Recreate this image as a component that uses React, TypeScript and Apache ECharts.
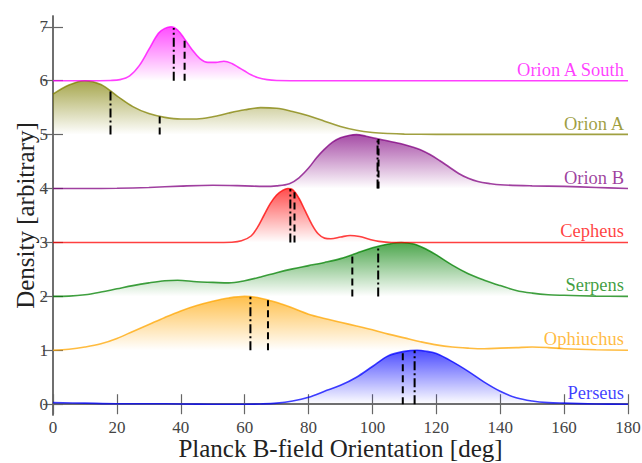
import React, { useEffect, useRef } from "react";
import * as echarts from "echarts";

const regionNames = ["Perseus", "Ophiuchus", "Serpens", "Cepheus", "Orion B", "Orion A", "Orion A South"];

const perseus = [[0,0.03],[10,0.02],[20,0.01],[30,0.01],[40,0.005],[50,0],[60,0],[65,0.005],[70,0.02],[75,0.06],[80,0.13],[85,0.24],[90,0.35],[95,0.5],[100,0.7],[105,0.9],[110,0.98],[114,1.0],[117,0.98],[120,0.94],[125,0.79],[130,0.61],[135,0.41],[140,0.24],[145,0.12],[150,0.06],[155,0.03],[160,0.02],[170,0.005],[180,0]];
const ophiuchus = [[0,0],[5,0.02],[10,0.06],[15,0.12],[20,0.22],[25,0.35],[30,0.48],[35,0.61],[40,0.73],[45,0.83],[50,0.91],[55,0.97],[60,1.0],[64,0.98],[68,0.92],[72,0.85],[76,0.76],[80,0.67],[85,0.59],[90,0.52],[95,0.45],[100,0.38],[105,0.3],[110,0.23],[115,0.16],[120,0.1],[125,0.06],[130,0.04],[135,0.03],[140,0.04],[145,0.05],[150,0.06],[155,0.05],[160,0.03],[170,0.01],[180,0]];
const serpens = [[0,0],[5,0.005],[10,0.03],[15,0.08],[20,0.14],[25,0.2],[30,0.25],[35,0.29],[39,0.3],[45,0.27],[50,0.26],[55,0.25],[60,0.29],[65,0.36],[70,0.44],[75,0.51],[80,0.57],[85,0.63],[90,0.7],[95,0.8],[100,0.9],[105,0.97],[109,1.0],[113,0.97],[117,0.87],[120,0.77],[125,0.58],[130,0.42],[135,0.3],[140,0.2],[145,0.11],[150,0.06],[155,0.03],[160,0.02],[170,0.005],[180,0]];
const cepheus = [[0,0],[20,0],[40,0],[50,0],[56,0.005],[59,0.03],[62,0.12],[64,0.28],[66,0.5],[68,0.72],[70,0.88],[72,0.97],[73.5,1.0],[75,0.98],[77,0.82],[79,0.58],[81,0.34],[83,0.16],[85,0.08],[87,0.07],[90,0.1],[93,0.13],[96,0.11],[99,0.06],[102,0.02],[106,0],[120,0],[150,0],[180,0]];
const orionB = [[0,0],[10,0],[20,0.005],[30,0.02],[40,0.045],[50,0.06],[60,0.05],[66,0.04],[70,0.05],[74,0.09],[77,0.2],[80,0.38],[82.5,0.57],[85,0.73],[87.5,0.86],[90,0.94],[93,0.99],[95,1.0],[98,0.97],[101,0.93],[105,0.88],[109,0.83],[112,0.78],[115,0.72],[118,0.63],[121,0.52],[124,0.4],[127,0.28],[130,0.19],[133,0.13],[137,0.09],[140,0.07],[150,0.05],[160,0.04],[170,0.02],[180,0]];
const orionA = [[0,0.75],[5,0.92],[10,1.0],[15,0.93],[20,0.72],[25,0.52],[30,0.39],[35,0.32],[40,0.29],[45,0.29],[50,0.33],[55,0.4],[60,0.46],[65,0.5],[70,0.49],[75,0.43],[80,0.35],[85,0.25],[90,0.15],[95,0.08],[100,0.04],[105,0.02],[110,0.01],[120,0.005],[140,0.005],[160,0.005],[180,0.005]];
const orionASouth = [[0,0],[10,0],[18,0.005],[21,0.02],[24,0.09],[27,0.28],[30,0.58],[33,0.88],[35,0.97],[37,1.0],[39,0.94],[41,0.79],[43.5,0.58],[46,0.41],[48.5,0.34],[51,0.34],[53.5,0.36],[56,0.32],[58,0.25],[60,0.18],[62,0.11],[64,0.06],[67,0.02],[70,0.005],[80,0],[100,0],[130,0],[160,0],[180,0]];

const curves = [perseus, ophiuchus, serpens, cepheus, orionB, orionA, orionASouth];

// dash-dot and dashed marker positions [deg]
const dashDotMarks = [113.2, 61.8, 101.8, 74.3, 101.6, 18.0, 37.8];
const dashedMarks = [109.5, 67.3, 93.7, 75.6, 101.9, 33.4, 41.2];

const yTicks = [0, 1, 2, 3, 4, 5, 6, 7];

const xTitle = "Planck B-field Orientation [deg]";
const yTitle = "Density [arbitrary]";

const rgbColors = [
  [0, 0, 255],
  [255, 165, 0],
  [0, 128, 0],
  [255, 0, 0],
  [128, 0, 128],
  [128, 128, 0],
  [255, 0, 255],
];

function densityAt(curve: number[][], x: number): number {
  for (let i = 0; i < curve.length - 1; i++) {
    const [x0, y0] = curve[i];
    const [x1, y1] = curve[i + 1];
    if (x >= x0 && x <= x1) {
      const t = (x - x0) / (x1 - x0);
      return y0 + t * (y1 - y0);
    }
  }
  return 0;
}

const FONT = "Liberation Serif";

export default function App() {
  const ref = useRef<HTMLDivElement>(null);
  useEffect(() => {
    if (!ref.current) return;
    const chart = echarts.init(ref.current, null, { renderer: "svg" });
    const rgba = (c: number[], a: number) => `rgba(${c[0]},${c[1]},${c[2]},${a})`;

    const series: any[] = [];
    curves.forEach((curve, i) => {
      const c = rgbColors[i];
      series.push({
        type: "line",
        name: regionNames[i],
        data: curve.map(([x, d]) => [x, i + d]),
        smooth: 0.35,
        symbol: "none",
        lineStyle: { color: rgba(c, 0.75), width: 1.6 },
        areaStyle: {
          origin: i,
          color: new echarts.graphic.LinearGradient(0, 0, 0, 1, [
            { offset: 0, color: rgba(c, 1) },
            { offset: 1, color: rgba(c, 0.0) },
          ]),
        },
        z: 2,
        silent: true,
      });
    });
    const markSeries = (marks: number[], dash: number[]) => {
      marks.forEach((m, i) => {
        series.push({
          type: "line",
          data: [
            [m, i],
            [m, i + densityAt(curves[i], m)],
          ],
          symbol: "none",
          lineStyle: { color: "#000", width: 2, type: dash },
          z: 5,
          silent: true,
        });
      });
    };
    markSeries(dashDotMarks, [9, 3, 2, 3]);
    markSeries(dashedMarks, [7, 4]);

    const axisLine = { show: true, lineStyle: { color: "#666", width: 1.5 } };
    const tickStyle = { color: "#666", width: 1.2 };
    const tickLabel = { show: true, fontFamily: FONT, fontSize: 17, color: "#444" };

    chart.setOption({
      animation: false,
      backgroundColor: "#fff",
      textStyle: { fontFamily: FONT },
      grid: { left: 53, right: 14, top: 16, bottom: 48, containLabel: false, outerBoundsMode: "none" },
      xAxis: [
        {
          type: "value",
          position: "bottom",
          min: 0,
          max: 180,
          interval: 20,
          axisLine,
          axisTick: { show: true, inside: true, length: 10, lineStyle: tickStyle },
          axisLabel: { ...tickLabel, margin: 4 },
          splitLine: { show: false },
        },
        {
          type: "value",
          position: "top",
          min: 0,
          max: 180,
          interval: 20,
          axisLine,
          axisTick: { show: true, inside: true, length: 10, lineStyle: tickStyle },
          axisLabel: { show: false },
          splitLine: { show: false },
        },
      ],
      yAxis: [
        {
          type: "value",
          position: "left",
          min: -0.2,
          max: 7.2,
          axisLine,
          axisTick: { show: true, inside: true, length: 10, lineStyle: tickStyle, customValues: yTicks },
          axisLabel: { ...tickLabel, margin: 5, customValues: yTicks },
          splitLine: { show: false },
        },
        {
          type: "value",
          position: "right",
          min: -0.2,
          max: 7.2,
          axisLine,
          axisTick: { show: true, inside: true, length: 10, lineStyle: tickStyle, customValues: yTicks },
          axisLabel: { show: false },
          splitLine: { show: false },
        },
      ],
      series,
    });
    const bl = chart.convertToPixel({ xAxisIndex: 0, yAxisIndex: 0 }, [0, -0.2]);
    const tr = chart.convertToPixel({ xAxisIndex: 0, yAxisIndex: 0 }, [180, 7.2]);
    const graphics: any[] = regionNames.map((n, i) => {
      const p = chart.convertToPixel({ xAxisIndex: 0, yAxisIndex: 0 }, [180, i]);
      return {
        type: "text",
        z: 10,
        x: p[0] - 4,
        y: p[1] - 11,
        style: {
          text: n,
          fill: rgba(rgbColors[i], 0.75),
          font: `18.5px "${FONT}"`,
          align: "right",
          verticalAlign: "middle",
        },
      };
    });
    graphics.push({
      type: "text",
      x: (bl[0] + tr[0]) / 2,
      y: bl[1] + 33,
      style: { text: xTitle, fill: "#222", font: `25px "${FONT}"`, align: "center", verticalAlign: "middle" },
    });
    graphics.push({
      type: "text",
      x: bl[0] - 28,
      y: (bl[1] + tr[1]) / 2,
      rotation: Math.PI / 2,
      style: { text: yTitle, fill: "#222", font: `25px "${FONT}"`, align: "center", verticalAlign: "middle" },
    });
    chart.setOption({ graphic: graphics });
    return () => chart.dispose();
  }, []);
  return (
    <div
      ref={ref}
      style={{ position: "absolute", left: 0, top: 0, width: 642, height: 463 }}
    />
  );
}
